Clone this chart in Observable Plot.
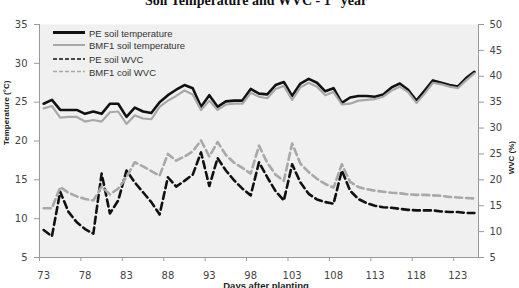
<!DOCTYPE html>
<html>
<head>
<meta charset="utf-8">
<script src="https://cdn.jsdelivr.net/npm/d3@7"></script>
<script src="https://cdn.jsdelivr.net/npm/@observablehq/plot@0.6"></script>
<style>
  body { margin: 0; background: #fff; }
  #chart { position: relative; width: 519px; height: 288px; overflow: hidden; }
  #chart svg.overlay { position: absolute; left: 0; top: 0; pointer-events: none; }
</style>
</head>
<body>
<div id="chart"></div>
<script>
// Days after planting
const days = [73, 74, 75, 76, 77, 78, 79, 80, 81, 82, 83, 84, 85, 86, 87, 88, 89, 90, 91, 92,
  93, 94, 95, 96, 97, 98, 99, 100, 101, 102, 103, 104, 105, 106, 107, 108, 109, 110, 111, 112,
  113, 114, 115, 116, 117, 118, 119, 120, 121, 122, 123, 124, 125];

// Soil temperature (°C)
const peTemp = [24.8, 25.3, 24.0, 24.0, 24.0, 23.5, 23.8, 23.5, 24.8, 24.8, 23.1, 24.3, 23.8, 23.6,
  25.0, 25.9, 26.6, 27.2, 26.8, 24.4, 25.9, 24.4, 25.1, 25.2, 25.2, 26.7, 26.1, 26.0, 27.2, 27.6,
  25.8, 27.4, 28.0, 27.5, 26.4, 26.8, 24.9, 25.6, 25.8, 25.8, 25.7, 26.0, 26.9, 27.4, 26.6, 25.2,
  26.5, 27.8, 27.5, 27.2, 27.0, 28.1, 28.9];
const bmfTemp = [24.2, 24.5, 23.0, 23.1, 23.1, 22.5, 22.7, 22.5, 23.7, 23.8, 22.2, 23.3, 22.9, 22.8,
  24.4, 25.2, 25.8, 26.5, 26.0, 24.0, 25.2, 24.0, 24.7, 24.8, 24.8, 26.2, 25.7, 25.5, 26.7, 27.1,
  25.3, 26.9, 27.5, 27.0, 25.9, 26.3, 24.7, 24.8, 25.2, 25.3, 25.4, 25.7, 26.5, 27.0, 26.3, 24.9,
  26.1, 27.5, 27.3, 27.0, 26.8, 27.8, 28.7];

// Soil water volumetric content (%)
const peWvc = [10.3, 9.1, 17.7, 13.8, 11.8, 10.5, 9.6, 21.2, 13.5, 16.0, 21.8, 19.5, 17.6, 15.7,
  13.3, 20.5, 18.7, 19.8, 21.0, 25.3, 18.8, 24.2, 21.8, 19.9, 18.3, 17.0, 23.4, 20.5, 17.8, 16.0,
  23.0, 19.5, 17.3, 16.2, 15.7, 15.4, 21.8, 17.9, 16.3, 15.5, 15.0, 14.7, 14.6, 14.4, 14.2, 14.1,
  14.1, 14.1, 13.9, 13.8, 13.8, 13.6, 13.6];
const bmfWvc = [14.5, 14.5, 18.6, 17.5, 16.8, 16.3, 16.0, 18.7, 17.2, 18.3, 20.5, 23.4, 22.6, 21.7,
  20.8, 25.0, 23.7, 24.5, 25.5, 27.6, 24.5, 27.3, 24.8, 23.3, 22.3, 21.2, 26.6, 23.3, 21.0, 19.8,
  27.0, 23.1, 21.5, 20.2, 19.2, 18.5, 23.0, 19.6, 18.6, 18.2, 17.9, 17.7, 17.5, 17.4, 17.2, 17.1,
  17.1, 17.0, 16.9, 16.7, 16.6, 16.5, 16.4];

// Axis ticks
const tempTicks = [5, 10, 15, 20, 25, 30, 35];
const wvcTicks = [5, 10, 15, 20, 25, 30, 35, 40, 45, 50];
const dayLabels = [73, 78, 83, 88, 93, 98, 103, 108, 113, 118, 123];
const dayTickMarks = [72.5, 77.5, 82.5, 87.5, 92.5, 97.5, 102.5, 107.5, 112.5, 117.5, 122.5];

const seriesNames = ["PE soil temperature", "BMF1 soil temperature", "PE soil WVC", "BMF1 coil WVC"];

// Secondary axis: WVC 5–50 maps onto temperature 5–35
const wvcToTemp = (w) => 5 + (w - 5) * 30 / 45;
const tempToWvc = (t) => 5 + (t - 5) * 45 / 30;

const rows = days.map((d, i) => ({
  day: d, peT: peTemp[i], bmfT: bmfTemp[i], peW: peWvc[i], bmfW: bmfWvc[i]
}));

const black = "#111";
const grey = "#a8a8a8";

const plot = Plot.plot({
  width: 519,
  height: 288,
  marginLeft: 39,
  marginRight: 41,
  marginTop: 24,
  marginBottom: 31,
  style: { fontFamily: "'DejaVu Sans', sans-serif", fontSize: "10px", color: "#444", background: "transparent" },
  x: { domain: [72.5, 125.5] },
  y: { domain: [5, 35] },
  marks: [
    Plot.frame({ fill: "#f0f0f0", stroke: null }),
    Plot.frame({ anchor: "left", stroke: "#9a9a9a" }),
    Plot.frame({ anchor: "right", stroke: "#9a9a9a" }),
    Plot.frame({ anchor: "bottom", stroke: "#9a9a9a" }),
    Plot.axisY(tempTicks, { tickSize: 5, tickPadding: 7, label: null, stroke: "#9a9a9a" }),
    Plot.axisY(wvcTicks.map(wvcToTemp), {
      anchor: "right", tickSize: 5, tickPadding: 6, label: null, stroke: "#9a9a9a",
      tickFormat: (t) => Math.round(tempToWvc(t))
    }),
    Plot.axisX(dayLabels, { tickSize: 0, tickPadding: 14, label: null }),
    Plot.axisX(dayTickMarks, { tickSize: 4, tickFormat: () => "", label: null, stroke: "#9a9a9a" }),
    Plot.line(rows, { x: "day", y: "peT", stroke: black, strokeWidth: 2.6 }),
    Plot.line(rows, { x: "day", y: "bmfT", stroke: grey, strokeWidth: 2.2 }),
    Plot.line(rows, { x: "day", y: (d) => wvcToTemp(d.peW), stroke: black, strokeWidth: 2.6, strokeDasharray: "7,4" }),
    Plot.line(rows, { x: "day", y: (d) => wvcToTemp(d.bmfW), stroke: grey, strokeWidth: 2.6, strokeDasharray: "7,4" }),
    Plot.text(["Temperature (°C)"], {
      frameAnchor: "left", dx: -33, dy: 4, rotate: -90,
      fontFamily: "'Liberation Sans', Arial, sans-serif", fontWeight: "bold", fontSize: 8, fill: "#222"
    }),
    Plot.text(["WVC (%)"], {
      frameAnchor: "right", dx: 33, dy: 0, rotate: -90,
      fontFamily: "'Liberation Sans', Arial, sans-serif", fontWeight: "bold", fontSize: 8, fill: "#222"
    }),
    Plot.text(["Days after planting"], {
      frameAnchor: "bottom", dx: 7, dy: 31,
      fontFamily: "'Liberation Sans', Arial, sans-serif", fontWeight: "bold", fontSize: 9.5, fill: "#222"
    })
  ]
});

const chart = document.getElementById("chart");
chart.appendChild(plot);

// Title and legend drawn on top of the plot
const overlay = d3.select(chart).append("svg")
  .attr("class", "overlay").attr("width", 519).attr("height", 288);

const title = overlay.append("text")
  .attr("x", 256).attr("y", 4.5).attr("text-anchor", "middle")
  .attr("font-family", "'Liberation Serif', 'Times New Roman', serif")
  .attr("font-weight", "bold").attr("font-size", 14).attr("fill", "#111");
title.append("tspan").text("Soil Temperature and WVC - 1");
title.append("tspan").attr("baseline-shift", "super").attr("font-size", 9).text("st");
title.append("tspan").text(" year");

const legendStyles = [
  { stroke: black, width: 3, dash: null, y: 32.5 },
  { stroke: grey, width: 2, dash: null, y: 45 },
  { stroke: black, width: 1.4, dash: "4,2", y: 59 },
  { stroke: grey, width: 1.4, dash: "4,2", y: 71.5 }
];
const legend = overlay.append("g");
seriesNames.forEach((name, i) => {
  const s = legendStyles[i];
  legend.append("line")
    .attr("x1", 53).attr("x2", 85).attr("y1", s.y).attr("y2", s.y)
    .attr("stroke", s.stroke).attr("stroke-width", s.width)
    .attr("stroke-dasharray", s.dash);
  legend.append("text")
    .attr("x", 89).attr("y", s.y + 1).attr("dy", "0.35em")
    .attr("font-family", "'Liberation Sans', Arial, sans-serif")
    .attr("font-size", 9.5).attr("fill", "#333")
    .text(name);
});
</script>
</body>
</html>
